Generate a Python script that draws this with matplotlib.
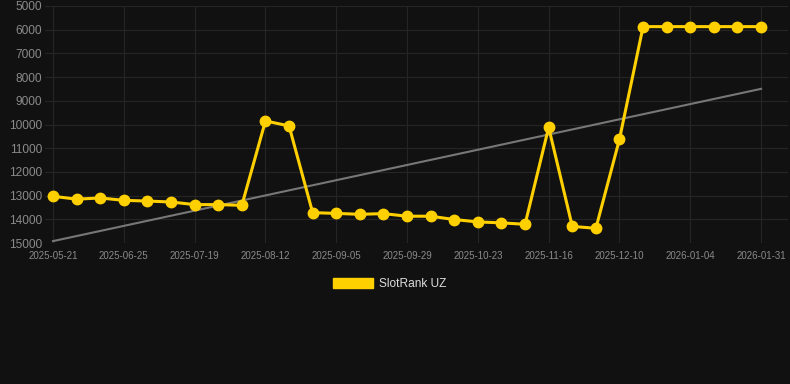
import matplotlib
matplotlib.use("Agg")
import matplotlib.pyplot as plt
from matplotlib.patches import Patch
import numpy as np

plt.rcParams['font.family'] = ['Liberation Sans', 'DejaVu Sans']

values = [13030, 13150, 13100, 13200, 13230, 13270, 13380, 13380, 13410,
          9850, 10060, 13720, 13750, 13790, 13760, 13870, 13870, 14010,
          14110, 14150, 14210, 10120, 14300, 14380, 10620,
          5870, 5870, 5870, 5870, 5870, 5870]
tick_labels = ["2025-05-21", "2025-06-25", "2025-07-19", "2025-08-12",
               "2025-09-05", "2025-09-29", "2025-10-23", "2025-11-16",
               "2025-12-10", "2026-01-04", "2026-01-31"]
y_ticks = [5000, 6000, 7000, 8000, 9000, 10000, 11000, 12000, 13000, 14000, 15000]
series_name = "SlotRank UZ"

bg = "#111111"
yellow = "#FFD000"

W, H = 790, 384
fig = plt.figure(figsize=(W / 100, H / 100), dpi=100, facecolor=bg)
ax = fig.add_axes([45 / W, 1 - 243 / H, (788 - 45) / W, (243 - 6) / H])
ax.set_facecolor(bg)

x = np.arange(len(values))
coef = np.polyfit(x, values, 1)
ax.plot(x, np.polyval(coef, x), color="#777777", lw=1.5, zorder=2)
ax.plot(x, values, color=yellow, lw=2.2, marker="o", markersize=7.5, zorder=3)

ax.set_ylim(15000, 5000)
ax.set_xlim(-0.34, 31.14)
ax.set_yticks(y_ticks)
ax.set_yticklabels([str(v) for v in y_ticks])
ax.set_xticks(x[::3])
ax.set_xticklabels(tick_labels)
ax.grid(True, color="#252525", lw=0.8)
ax.set_axisbelow(True)
for s in ax.spines.values():
    s.set_visible(False)
ax.tick_params(axis="both", length=0, colors="#8a8a8a")
ax.tick_params(axis="y", labelsize=8.6, pad=2)
ax.tick_params(axis="x", labelsize=7, pad=6)

handle = Patch(facecolor=yellow, edgecolor=yellow)
fig.legend([handle], [series_name], loc="center", bbox_to_anchor=(389.5 / W, 1 - 284 / H),
           frameon=False, fontsize=8.6, labelcolor="#dddddd",
           handlelength=3.4, handleheight=1.0, handletextpad=0.5)

fig.savefig("out.png", dpi=100, facecolor=bg)
